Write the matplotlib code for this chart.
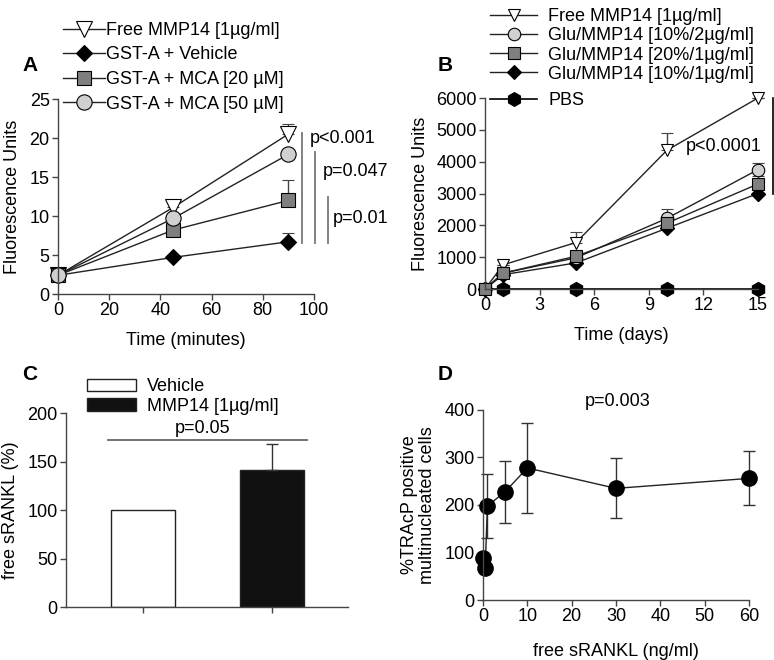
import numpy as np
import matplotlib
matplotlib.use("Agg")
import matplotlib.pyplot as plt
from matplotlib.lines import Line2D

plt.rcParams['font.family'] = ['Liberation Sans', 'DejaVu Sans']
plt.rcParams['font.size'] = 13

# ---- panel A data ----
a_time = [0, 45, 90]
a_free = [2.4, 11.1, 20.5]
a_free_err = [0, 0.7, 1.3]
a_vehicle = [2.4, 4.7, 6.7]
a_vehicle_err = [0, 0, 1.1]
a_mca20 = [2.4, 8.2, 12.0]
a_mca20_err = [0, 0, 2.6]
a_mca50 = [2.4, 9.7, 17.9]
a_mca50_err = [0, 0, 0]

# ---- panel B data ----
b_days = [0, 1, 5, 10, 15]
b_free = [0, 760, 1460, 4360, 6000]
b_free_err = [0, 0, 340, 550, 0]
b_glu10_2 = [0, 500, 980, 2220, 3750]
b_glu10_2_err = [0, 0, 0, 280, 220]
b_glu20_1 = [0, 500, 1030, 2070, 3300]
b_glu20_1_err = [0, 0, 0, 0, 250]
b_glu10_1 = [0, 450, 820, 1910, 3000]
b_pbs = [0, 0, 0, 0, 0]

# ---- panel C data ----
c_groups = ['Vehicle', 'MMP14 [1µg/ml]']
c_values = [100, 141]
c_err = [0, 27]

# ---- panel D data ----
d_rankl = [0, 0.5, 1, 5, 10, 30, 60]
d_tracp = [88, 67, 198, 228, 278, 235, 256]
d_err = [8, 8, 67, 65, 94, 63, 57]

line_col = '#222222'
spine_col = '#444444'


def style_axes(ax):
    for s in ['top', 'right']:
        ax.spines[s].set_visible(False)
    for s in ['left', 'bottom']:
        ax.spines[s].set_color(spine_col)
        ax.spines[s].set_linewidth(1.0)
    ax.tick_params(direction='out', length=4, width=1, color=spine_col,
                   labelsize=13, pad=2)


def handle(marker, ms, fc, lw=1, col=line_col):
    return Line2D([], [], marker=marker, ms=ms, mfc=fc, mec='black',
                  mew=0.8, lw=lw, color=col)


fig = plt.figure(figsize=(7.74, 6.6), dpi=100)

# ================= A =================
axA = fig.add_axes([0.0749, 0.5545, 0.3308, 0.2955])
style_axes(axA)
eb = dict(capsize=4.5, elinewidth=1, ecolor='#444444', lw=1, color=line_col,
          markeredgecolor='black', markeredgewidth=0.8, clip_on=False)
axA.errorbar(a_time, a_free, yerr=[np.zeros(3), a_free_err], marker='v',
             ms=11, mfc='white', **eb)
axA.errorbar(a_time, a_vehicle, yerr=[np.zeros(3), a_vehicle_err], marker='D',
             ms=8, mfc='black', **eb)
axA.errorbar(a_time, a_mca20, yerr=[np.zeros(3), a_mca20_err], marker='s',
             ms=9.5, mfc='#7f7f7f', **eb)
axA.errorbar(a_time, a_mca50, yerr=[np.zeros(3), a_mca50_err], marker='o',
             ms=11, mfc='#d0d0d0', **eb)
axA.set_xlim(0, 100)
axA.set_ylim(0, 25)
axA.set_xticks([0, 20, 40, 60, 80, 100])
axA.set_yticks([0, 5, 10, 15, 20, 25])
axA.set_xlabel('Time (minutes)', labelpad=9)
axA.set_ylabel('Fluorescence Units', labelpad=6)
for x, y0, y1 in [(95.3, 6.5, 20.6), (100.4, 6.5, 18.2), (105.5, 6.5, 12.5)]:
    axA.plot([x, x], [y0, y1], color='#777777', lw=1.3, clip_on=False)
axA.text(98.3, 19.9, 'p<0.001', va='center', ha='left', clip_on=False)
axA.text(103.5, 15.7, 'p=0.047', va='center', ha='left', clip_on=False)
axA.text(107.3, 9.7, 'p=0.01', va='center', ha='left', clip_on=False)
hA = [handle('v', 11, 'white'), handle('D', 8, 'black'),
      handle('s', 9.5, '#7f7f7f'), handle('o', 11, '#d0d0d0')]
axA.legend(hA, ['Free MMP14 [1µg/ml]', 'GST-A + Vehicle',
                'GST-A + MCA [20 µM]', 'GST-A + MCA [50 µM]'],
           loc='lower left', bbox_to_anchor=(0.02, 0.93), frameon=False,
           handlelength=2.3, handletextpad=0.1, labelspacing=0.42,
           borderaxespad=0, borderpad=0, fontsize=13)
fig.text(0.029, 0.893, 'A', fontsize=15, fontweight='bold')

# ================= B =================
axB = fig.add_axes([0.6266, 0.5621, 0.3527, 0.2894])
style_axes(axB)
ebB = dict(capsize=4, elinewidth=1, ecolor='#444444', lw=1, color=line_col,
           markeredgecolor='black', markeredgewidth=0.8, clip_on=False)
z5 = np.zeros(5)
axB.errorbar(b_days, b_free, yerr=[z5, b_free_err], marker='v',
             ms=9, mfc='white', **ebB)
axB.errorbar(b_days, b_glu10_2, yerr=[z5, b_glu10_2_err], marker='o',
             ms=9, mfc='#d0d0d0', **ebB)
axB.errorbar(b_days, b_glu20_1, yerr=[z5, b_glu20_1_err], marker='s',
             ms=8, mfc='#7f7f7f', **ebB)
axB.plot(b_days, b_glu10_1, marker='D', ms=7, mfc='black', lw=1,
         color=line_col, mec='black', clip_on=False)
axB.plot(b_days, b_pbs, marker='h', ms=10, mfc='black', mec='black',
         lw=1.2, color='black', clip_on=False)
axB.set_xlim(0, 15)
axB.set_ylim(0, 6000)
axB.set_xticks([0, 3, 6, 9, 12, 15])
axB.set_yticks([0, 1000, 2000, 3000, 4000, 5000, 6000])
axB.set_xlabel('Time (days)', labelpad=9)
axB.set_ylabel('Fluorescence Units', labelpad=5)
axB.plot([15.85, 15.85], [3000, 6000], color='black', lw=1.2, clip_on=False)
axB.text(13.1, 4470, 'p<0.0001', ha='center', va='center')
hB = [handle('v', 9, 'white'), handle('o', 9, '#d0d0d0'),
      handle('s', 8, '#7f7f7f'), handle('D', 7, 'black')]
legB1 = axB.legend(hB, ['Free MMP14 [1µg/ml]', 'Glu/MMP14 [10%/2µg/ml]',
                        'Glu/MMP14 [20%/1µg/ml]', 'Glu/MMP14 [10%/1µg/ml]'],
                   loc='lower left', bbox_to_anchor=(0.02, 1.08), frameon=False,
                   handlelength=2.6, handletextpad=0.6, labelspacing=0.12,
                   borderaxespad=0, borderpad=0, fontsize=13)
axB.add_artist(legB1)
axB.legend([handle('h', 10, 'black', lw=1.2, col='black')], ['PBS'],
           loc='lower left', bbox_to_anchor=(0.02, 0.94),
           frameon=False, handlelength=2.6, handletextpad=0.6,
           borderaxespad=0, borderpad=0, fontsize=13)
fig.text(0.565, 0.893, 'B', fontsize=15, fontweight='bold')

# ================= C =================
axC = fig.add_axes([0.0853, 0.0803, 0.3643, 0.2939])
style_axes(axC)
xc = np.arange(len(c_groups))
bars = axC.bar(xc, c_values, width=0.496, color=['white', '#111111'],
               edgecolor='#222222', linewidth=1)
axC.errorbar(xc[1:], c_values[1:], yerr=[[0], c_err[1:]], fmt='none',
             ecolor='#333333', elinewidth=1, capsize=4)
axC.set_xlim(-0.597, 1.589)
axC.set_ylim(0, 200)
axC.set_xticks(xc)
axC.set_xticklabels(['', ''])
axC.set_yticks([0, 50, 100, 150, 200])
axC.set_ylabel('free sRANKL (%)', labelpad=6)
axC.plot([-0.27, 1.27], [172, 172], color='#666666', lw=1.3)
axC.text(0.465, 175, 'p=0.05', ha='center', va='bottom')
axC.legend(bars, c_groups, loc='lower left', bbox_to_anchor=(0.075, 0.99),
           frameon=False, handlelength=2.7, handleheight=0.7,
           handletextpad=0.6, labelspacing=0.15, borderaxespad=0,
           borderpad=0, fontsize=13)
fig.text(0.029, 0.425, 'C', fontsize=15, fontweight='bold')

# ================= D =================
axD = fig.add_axes([0.624, 0.0909, 0.3437, 0.2879])
style_axes(axD)
axD.errorbar(d_rankl, d_tracp, yerr=d_err, marker='o', ms=11, mfc='black',
             mec='black', color=line_col, lw=1, ecolor='#333333',
             elinewidth=1, capsize=4, clip_on=False)
axD.set_xlim(0, 60)
axD.set_ylim(0, 400)
axD.set_xticks([0, 10, 20, 30, 40, 50, 60])
axD.set_yticks([0, 100, 200, 300, 400])
axD.set_xlabel('free sRANKL (ng/ml)', labelpad=12.5)
axD.set_ylabel('%TRAcP positive\nmultinucleated cells', labelpad=6,
               linespacing=1.1)
axD.text(30.3, 417, 'p=0.003', ha='center', va='center')
fig.text(0.565, 0.425, 'D', fontsize=15, fontweight='bold')

fig.savefig('out.png', dpi=100)
